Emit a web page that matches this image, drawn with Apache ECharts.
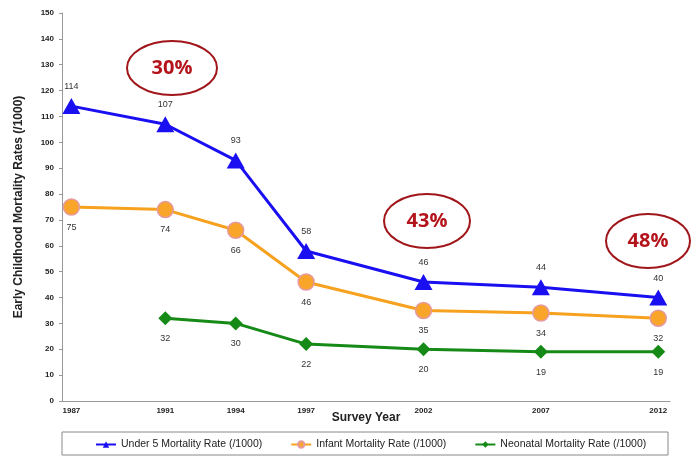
<!DOCTYPE html>
<html><head><meta charset="utf-8">
<script src="https://cdn.jsdelivr.net/npm/echarts@6/dist/echarts.min.js"></script>
<style>html,body{margin:0;padding:0;background:#fff}#c{width:691px;height:457px}</style>
</head><body><div id="c"></div>
<script>
const years = [1987, 1991, 1994, 1997, 2002, 2007, 2012];
const under5 = [114, 107, 93, 58, 46, 44, 40];
const infant = [75, 74, 66, 46, 35, 34, 32];
const neonatal = [null, 32, 30, 22, 20, 19, 19];
const yTicks = [0,10,20,30,40,50,60,70,80,90,100,110,120,130,140,150];
const callouts = [
  {text: '30%', cx: 172, cy: 68, rx: 45},
  {text: '43%', cx: 427, cy: 221, rx: 43},
  {text: '48%', cx: 648, cy: 241, rx: 42}
];
const seriesNames = ['Under 5 Mortality Rate (/1000)', 'Infant Mortality Rate (/1000)', 'Neonatal Mortality Rate (/1000)'];

function pairs(arr){ return years.map((y,i)=>[y, arr[i]]).filter(p=>p[1]!==null); }
const lblStyle = {show:true, fontSize:9, color:'#333', fontFamily:'Arial, Liberation Sans'};

const chart = echarts.init(document.getElementById('c'), null, {renderer:'canvas'});
const graphics = [];
callouts.forEach(c=>{
  graphics.push({type:'ellipse', shape:{cx:c.cx, cy:c.cy, rx:c.rx, ry:27}, style:{fill:'none', stroke:'#a0161a', lineWidth:2}, z:10});
  graphics.push({type:'text', x:c.cx, y:c.cy, style:{text:c.text, fill:'#b3141b', font:'bold 20px "Open Sans", Arial', textAlign:'center', textVerticalAlign:'middle'}, z:11});
});
graphics.push({type:'rect', shape:{x:62, y:432, width:606, height:23}, style:{fill:'none', stroke:'#888', lineWidth:1}, z:1});

chart.setOption({
  animation:false,
  grid:{left:62, right:21, top:13, bottom:56, containLabel:false},
  xAxis:{
    type:'value', min:1986.6, max:2012.5,
    name:'Survey Year', nameLocation:'middle', nameGap:11, nameMoveOverlap:false,
    nameTextStyle:{fontSize:12, fontWeight:'bold', color:'#222', fontFamily:'Arial, Liberation Sans', verticalAlign:'top'},
    axisLine:{lineStyle:{color:'#999'}},
    axisTick:{show:false},
    splitLine:{show:false},
    axisLabel:{customValues:years, fontSize:8, color:'#222', fontWeight:'bold', margin:6, formatter:v=>String(v), fontFamily:'Arial, Liberation Sans'}
  },
  yAxis:{
    type:'value', min:0, max:150, interval:10,
    name:'Early Childhood Mortality Rates (/1000)', nameLocation:'middle', nameGap:37, nameMoveOverlap:false,
    nameTextStyle:{fontSize:12, fontWeight:'bold', color:'#222', fontFamily:'Arial, Liberation Sans'},
    axisLine:{show:true, lineStyle:{color:'#999'}},
    axisTick:{show:true, length:3, lineStyle:{color:'#999'}},
    splitLine:{show:false},
    axisLabel:{fontSize:8, color:'#222', fontWeight:'bold', margin:8, fontFamily:'Arial, Liberation Sans'}
  },
  legend:{
    top:434, left:90, itemGap:28, itemWidth:20, itemHeight:8,
    textStyle:{fontSize:10.5, color:'#222', fontFamily:'Arial, Liberation Sans'},
    data:seriesNames
  },
  graphic:graphics,
  series:[
    {name:seriesNames[0], type:'line', data:pairs(under5), symbol:'triangle', symbolSize:[18,16],
     lineStyle:{color:'#1a0ff0', width:3}, itemStyle:{color:'#1a0ff0'},
     label:Object.assign({position:'top', distance:7}, lblStyle)},
    {name:seriesNames[1], type:'line', data:pairs(infant), symbol:'circle', symbolSize:16,
     lineStyle:{color:'#f6a21f', width:3}, itemStyle:{color:'#f9a52a', borderColor:'#e59aa0', borderWidth:1.5},
     label:Object.assign({position:'bottom', distance:7}, lblStyle)},
    {name:seriesNames[2], type:'line', data:pairs(neonatal), symbol:'diamond', symbolSize:[14,14],
     lineStyle:{color:'#168a16', width:3}, itemStyle:{color:'#168a16'},
     label:Object.assign({position:'bottom', distance:9}, lblStyle)}
  ]
});
</script></body></html>
